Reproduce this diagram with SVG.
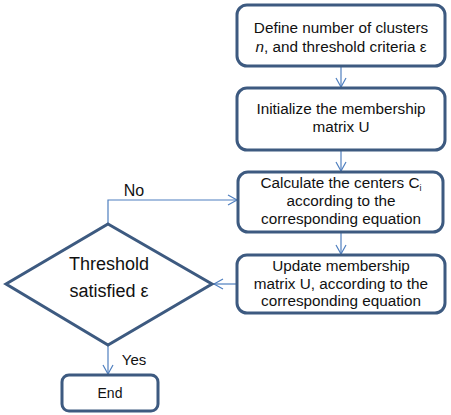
<svg xmlns="http://www.w3.org/2000/svg" width="451" height="415" viewBox="0 0 451 415">
<defs>
<style>
.box{fill:#fff;stroke:#3d5a80;stroke-width:3}
.t{font-family:"Liberation Sans",Arial,sans-serif;font-size:15.3px;fill:#111;text-anchor:middle}
.c{fill:none;stroke:#4f7fbf;stroke-width:1.2}
</style>
<marker id="ah" markerWidth="12" markerHeight="12" refX="10" refY="6" orient="auto" markerUnits="userSpaceOnUse">
<path d="M1,1 L10,6 L1,11" fill="none" stroke="#4f7fbf" stroke-width="1.2"/>
</marker>
</defs>
<rect width="451" height="415" fill="#fff"/>
<g id="connectors">
<line class="c" x1="341" y1="66" x2="341" y2="87" marker-end="url(#ah)"/>
<line class="c" x1="341" y1="151" x2="341" y2="171" marker-end="url(#ah)"/>
<line class="c" x1="341" y1="233" x2="341" y2="254" marker-end="url(#ah)"/>
<line class="c" x1="236" y1="284" x2="214" y2="284" marker-end="url(#ah)"/>
<polyline class="c" points="108,223 108,200 237,200" marker-end="url(#ah)"/>
<line class="c" x1="108" y1="345" x2="108" y2="374" marker-end="url(#ah)"/>
<text class="t" x="134" y="196" style="font-size:16px">No</text>
<text class="t" x="134" y="365" style="font-size:15px">Yes</text>
</g>
<g id="n1">
<rect class="box" x="237" y="5" width="208" height="61" rx="10"/>
<text class="t" x="341" y="33">Define number  of clusters</text>
<text class="t" x="341" y="52"><tspan font-style="italic">n</tspan>, and threshold criteria ε</text>
</g>
<g id="n2">
<rect class="box" x="237" y="88" width="208" height="62" rx="10"/>
<text class="t" x="341" y="114">Initialize the membership</text>
<text class="t" x="341" y="132">matrix U</text>
</g>
<g id="n3">
<rect class="box" x="238" y="172" width="205" height="60" rx="10"/>
<text class="t" x="341" y="188">Calculate the centers C<tspan font-size="9" dy="3">i</tspan></text>
<text class="t" x="341" y="206">according to the</text>
<text class="t" x="341" y="224">corresponding equation</text>
</g>
<g id="n4">
<rect class="box" x="237" y="255" width="208" height="58" rx="10"/>
<text class="t" x="341" y="271">Update membership</text>
<text class="t" x="341" y="289">matrix U, according to the</text>
<text class="t" x="341" y="306">corresponding equation</text>
</g>
<g id="decision">
<polygon class="box" points="108,224 212,284 108,345 6,284"/>
<text class="t" x="109" y="270" style="font-size:18px">Threshold</text>
<text class="t" x="109" y="297" style="font-size:18px">satisfied ε</text>
</g>
<g id="end">
<rect class="box" x="62" y="375" width="96" height="36" rx="7"/>
<text class="t" x="110" y="398" style="font-size:14px">End</text>
</g>
</svg>
